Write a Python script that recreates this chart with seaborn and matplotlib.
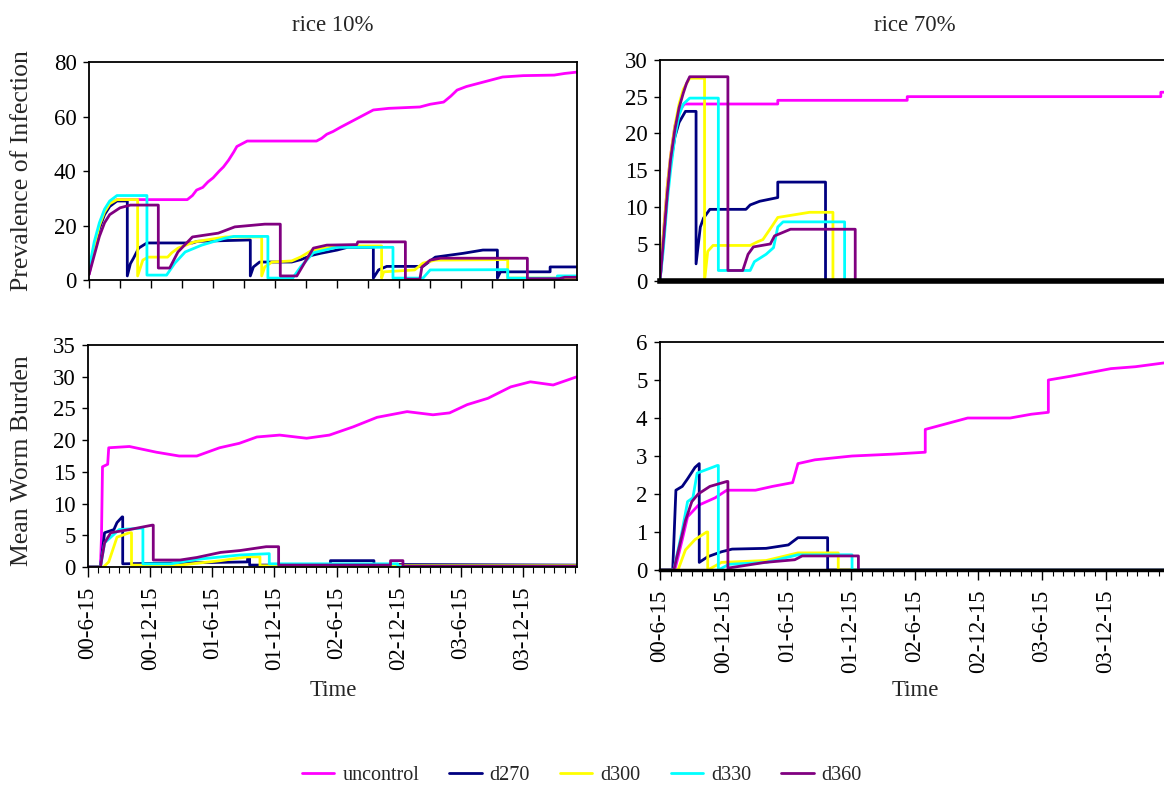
import matplotlib
matplotlib.use("Agg")
import matplotlib.pyplot as plt
from matplotlib.ticker import MultipleLocator
import seaborn as sns
import pandas as pd

# time in months since 00-6-15
series_names = ["uncontrol", "d270", "d300", "d330", "d360"]
colors = ["#FF00FF", "#000080", "#FFFF00", "#00FFFF", "#800080"]
tick_months = [0, 6, 12, 18, 24, 30, 36, 42]
tick_labels = ["00-6-15", "00-12-15", "01-6-15", "01-12-15",
               "02-6-15", "02-12-15", "03-6-15", "03-12-15"]

# ---- rice 10%, prevalence of infection
tl_uncontrol = [(0, 2), (0.5, 11), (1, 19), (1.5, 25), (2, 28), (2.7, 29.5), (9.5, 29.5), (10, 31),
                (10.4, 33), (11, 34), (11.5, 36), (12, 37.5), (12.6, 40), (13, 41.5), (13.5, 44),
                (14, 47), (14.3, 49), (15.3, 51), (22, 51), (22.5, 52), (23, 53.5), (23.6, 54.5),
                (24.3, 56), (25.3, 58), (26.3, 60), (27.5, 62.4), (29, 63), (32, 63.5), (33, 64.5),
                (34.3, 65.3), (35, 67.5), (35.6, 69.7), (36.5, 71), (37.8, 72.3), (39, 73.5),
                (40, 74.5), (42, 75), (45, 75.2), (46, 75.8), (47.2, 76.3)]
tl_d270 = [(0, 3), (0.5, 12), (1, 19), (1.5, 24), (2, 27), (2.7, 29), (3.7, 29), (3.7, 1.5), (4, 6),
           (4.3, 8), (4.8, 11.7), (5.6, 13.6), (10, 13.6), (10.5, 14.2), (15.6, 14.7), (15.6, 1.5),
           (15.9, 4.8), (16.5, 6.6), (19.6, 6.6), (20.5, 7.5), (21.5, 9), (22.4, 9.8), (24, 11),
           (25, 12), (27.5, 12), (27.5, 0.7), (28, 3.7), (28.8, 5), (32.3, 5), (33, 7), (33.5, 8.4),
           (36.2, 9.8), (38.1, 11), (39.5, 11), (39.5, 0.7), (39.8, 3), (44.6, 3), (44.6, 4.8),
           (47.2, 4.8)]
tl_d300 = [(0, 3), (0.5, 12), (1, 20), (1.5, 25), (2, 28), (2.7, 29.5), (4.7, 29.5), (4.7, 1.5),
           (5.2, 7.3), (5.7, 8.4), (7.6, 8.4), (8, 10), (8.6, 11.7), (10.2, 14), (13.2, 15.8),
           (16.7, 15.8), (16.7, 1.5), (17, 4.8), (17.7, 6.6), (19.6, 7), (20.5, 8.5), (21.6, 11),
           (24.3, 12.5), (28.3, 12.5), (28.3, 0.7), (28.5, 3), (31.5, 3.7), (32.3, 6.2),
           (33.5, 7.3), (40.5, 7.5), (40.5, 0.7), (47.2, 0.7)]
tl_d330 = [(0, 4), (0.5, 14), (1, 21), (1.5, 26), (2, 29), (2.7, 31), (5.6, 31), (5.6, 1.8),
           (7.5, 1.8), (8.3, 6.2), (9.3, 10.3), (10.9, 12.8), (13.2, 15.4), (14, 16), (17.3, 16),
           (17.3, 0.7), (19.7, 0.7), (20.5, 5), (21.7, 10), (23.6, 11.7), (24, 12), (29.4, 12),
           (29.4, 0.7), (32.3, 0.7), (33, 3.7), (40.5, 3.8), (40.5, 0.7), (45.3, 0.7), (45.3, 1.5),
           (47.2, 1.5)]
tl_d360 = [(0, 2), (0.5, 9), (1, 16), (1.5, 21), (2, 24), (3, 26.5), (4, 27.5), (6.7, 27.5),
           (6.7, 4.4), (7.8, 4.4), (8.6, 10.3), (10, 15.8), (12.5, 17.2), (14.1, 19.5), (17, 20.5),
           (18.5, 20.5), (18.5, 1.5), (20.1, 1.5), (20.8, 6), (21.7, 11.7), (23, 12.8), (25.9, 13),
           (26, 14), (30.6, 14), (30.6, 0.3), (32, 0.3), (32.2, 4.8), (33, 7.3), (34, 8), (42.4, 8),
           (42.4, 0.5), (45.5, 0.5), (46, 1), (47.2, 1)]

# ---- rice 70%, prevalence of infection
tr_uncontrol = [(0, 0), (0.3, 6), (0.7, 13), (1.0, 17), (1.4, 21), (1.8, 23), (2.3, 24), (11.1, 24),
                (11.1, 24.5), (23.3, 24.5), (23.3, 25), (47.2, 25), (47.2, 25.6), (47.5, 25.6)]
tr_d270 = [(0, 0), (0.3, 5), (0.7, 12), (1.0, 16), (1.4, 19.5), (1.8, 21.5), (2.4, 23), (3.4, 23),
           (3.4, 2.3), (3.8, 7.3), (4.1, 8.5), (4.7, 9.7), (8.1, 9.7), (8.5, 10.3), (9.4, 10.8),
           (11.1, 11.3), (11.1, 13.4), (15.6, 13.4), (15.6, 0), (47.5, 0)]
tr_d300 = [(0, 0), (0.3, 6), (0.7, 13), (1.0, 17), (1.4, 21), (1.8, 24), (2.2, 26), (2.8, 27.5),
           (4.2, 27.5), (4.2, 0), (4.5, 4), (5, 4.8), (8.5, 4.8), (9.2, 5.3), (9.7, 5.6),
           (10.6, 7.5), (11.1, 8.6), (14.1, 9.3), (16.3, 9.3), (16.3, 0), (47.5, 0)]
tr_d330 = [(0, 0), (0.3, 4), (0.7, 11), (1.0, 15), (1.4, 19.5), (1.8, 22.5), (2.2, 24), (2.8, 24.8),
           (5.5, 24.8), (5.5, 1.4), (8.5, 1.4), (8.9, 2.6), (10, 3.6), (10.7, 4.5), (11.1, 7.3),
           (11.6, 8), (17.4, 8), (17.4, 0), (47.5, 0)]
tr_d360 = [(0, 0), (0.3, 5), (0.7, 12), (1.0, 16.5), (1.4, 20.5), (1.8, 23.5), (2.2, 25.5),
           (2.5, 26.8), (2.8, 27.7), (6.4, 27.7), (6.4, 1.4), (7.8, 1.4), (8.3, 3.6), (8.8, 4.6),
           (10.4, 5), (10.8, 6.1), (12.3, 7), (18.4, 7), (18.4, 0), (47.5, 0)]

# ---- rice 10%, mean worm burden
bl_uncontrol = [(0, 0), (1.2, 0), (1.3, 4.7), (1.4, 15.8), (1.9, 16.2), (2, 18.8), (4, 19),
                (6.6, 18.1), (8.8, 17.5), (10.5, 17.5), (12.7, 18.8), (14.6, 19.5), (16.3, 20.5),
                (18.5, 20.8), (21.1, 20.3), (23.3, 20.8), (25.6, 22.1), (27.9, 23.6), (30.8, 24.5),
                (33.3, 24), (34.9, 24.3), (36.6, 25.6), (38.6, 26.6), (40.8, 28.4), (42.7, 29.2),
                (44.9, 28.7), (47.2, 30)]
bl_d270 = [(0, 0), (1.2, 0), (1.6, 5.4), (2.5, 5.9), (2.8, 7), (3.3, 7.9), (3.35, 7.9), (3.35, 0.5),
           (15.4, 0.8), (15.4, 1.5), (15.6, 1.5), (15.6, 0.3), (23.4, 0.3), (23.4, 1.0),
           (27.6, 1.0), (27.6, 0.4), (47.2, 0.3)]
bl_d300 = [(0, 0), (1.5, 0), (2, 0.8), (2.8, 4.7), (4.0, 5.4), (4.2, 5.4), (4.2, 0.3), (8.9, 0.3),
           (12.8, 1.0), (15.4, 1.6), (16.6, 1.6), (16.6, 0.2), (47.2, 0.2)]
bl_d330 = [(0, 0), (1.2, 0), (1.6, 3.8), (2.2, 4.7), (3.0, 5.9), (5.0, 6.1), (5.3, 6.1), (5.3, 0.5),
           (8, 0.5), (10.5, 1.2), (14.7, 1.9), (17.5, 2.1), (17.5, 0.5), (29.9, 0.5), (29.9, 0.1),
           (47.2, 0.1)]
bl_d360 = [(0, 0), (1.2, 0), (1.6, 3.8), (2.2, 5.4), (4.0, 5.9), (6.2, 6.6), (6.3, 6.6), (6.3, 1.1),
           (8.9, 1.1), (10.5, 1.5), (12.8, 2.3), (14.7, 2.6), (17.2, 3.2), (18.4, 3.2), (18.4, 0.3),
           (29.2, 0.3), (29.2, 1.0), (30.4, 1.0), (30.4, 0.1), (47.2, 0.1)]

# ---- rice 70%, mean worm burden
br_uncontrol = [(0, 0), (1.4, 0), (2.1, 0.8), (2.6, 1.4), (3.6, 1.7), (5.2, 1.9), (6.3, 2.1),
                (9, 2.1), (10.6, 2.2), (12.5, 2.3), (13, 2.8), (14.6, 2.9), (18.1, 3.0), (22, 3.05),
                (25, 3.1), (25, 3.7), (27, 3.85), (29, 4.0), (33, 4.0), (35, 4.1), (36.6, 4.15),
                (36.6, 5.0), (38.7, 5.1), (40.6, 5.2), (42.5, 5.3), (44.8, 5.35), (47.5, 5.45)]
br_d270 = [(0, 0), (1.2, 0), (1.5, 2.1), (2.1, 2.2), (2.6, 2.4), (3.3, 2.7), (3.7, 2.8), (3.7, 0.2),
           (4.5, 0.35), (5.8, 0.48), (6.8, 0.55), (10, 0.57), (12.1, 0.66), (13, 0.85),
           (15.8, 0.85), (15.8, 0), (47.5, 0)]
br_d300 = [(0, 0), (1.7, 0), (2.4, 0.53), (3.3, 0.8), (4.4, 1.0), (4.5, 1.0), (4.5, 0), (5.8, 0.2),
           (10, 0.25), (13, 0.45), (16.8, 0.45), (16.8, 0), (47.5, 0)]
br_d330 = [(0, 0), (1.3, 0), (2.1, 1.05), (2.6, 1.8), (3.1, 1.9), (3.5, 2.55), (5.4, 2.75),
           (5.5, 2.75), (5.5, 0), (6.5, 0.15), (10, 0.2), (13, 0.4), (18.1, 0.4), (18.1, 0),
           (47.5, 0)]
br_d360 = [(0, 0), (1.3, 0), (2.4, 1.3), (3, 1.8), (3.6, 2.0), (4.7, 2.2), (6.3, 2.33), (6.4, 2.33),
           (6.4, 0.05), (9.9, 0.2), (12.7, 0.27), (13.4, 0.37), (18.7, 0.37), (18.7, 0), (47.5, 0)]


def to_frame(*series):
    rows = []
    for name, pts in zip(series_names, series):
        for t, v in pts:
            rows.append({"month": t, "value": v, "series": name})
    return pd.DataFrame(rows)


sns.set_theme(style="ticks")
plt.rcParams["font.family"] = ["Liberation Serif", "DejaVu Serif"]
plt.rcParams["axes.linewidth"] = 1.3

palette = dict(zip(series_names, colors))

fig = plt.figure(figsize=(11.64, 7.91), dpi=100)
ax_tl = fig.add_axes([0.0765, 0.646, 0.4192, 0.2756])
ax_tr = fig.add_axes([0.567, 0.645, 0.433, 0.2794])
ax_bl = fig.add_axes([0.0756, 0.2832, 0.4201, 0.2806])
ax_br = fig.add_axes([0.567, 0.2794, 0.433, 0.2882])

panels = [
    (ax_tl, to_frame(tl_uncontrol, tl_d270, tl_d300, tl_d330, tl_d360), (0, 80), 20, 47.2),
    (ax_tr, to_frame(tr_uncontrol, tr_d270, tr_d300, tr_d330, tr_d360), (0, 30), 5, 47.5),
    (ax_bl, to_frame(bl_uncontrol, bl_d270, bl_d300, bl_d330, bl_d360), (0, 35), 5, 47.2),
    (ax_br, to_frame(br_uncontrol, br_d270, br_d300, br_d330, br_d360), (0, 6), 1, 47.5),
]

handles, labels = None, None
for i, (ax, df, ylim, ystep, xmax) in enumerate(panels):
    sns.lineplot(data=df, x="month", y="value", hue="series", hue_order=series_names,
                 palette=palette, estimator=None, sort=False, errorbar=None,
                 linewidth=2.0, legend=(i == 0), ax=ax)
    if i == 0:
        handles, labels = ax.get_legend_handles_labels()
        ax.get_legend().remove()
    ax.set_xlim(0, xmax)
    ax.set_ylim(*ylim)
    ax.yaxis.set_major_locator(MultipleLocator(ystep))
    ax.set_xlabel("")
    ax.set_ylabel("")
    for s in ax.spines.values():
        s.set_color("black")
    ax.tick_params(axis="y", labelsize=16.5, length=4, width=1, colors="black", pad=5)
    ax.tick_params(axis="x", length=6, width=1, colors="black")

# top row: no time labels
ax_tl.set_xticks(range(0, 48, 3))
ax_tl.set_xticklabels([])
ax_tr.set_xticks([])
ax_tr.spines["right"].set_visible(False)
ax_br.spines["right"].set_visible(False)
ax_tr.spines["bottom"].set_linewidth(4)
ax_br.spines["bottom"].set_linewidth(2.5)

for ax in (ax_bl, ax_br):
    ax.set_xticks(tick_months)
    ax.set_xticklabels(tick_labels, rotation=90, fontsize=16.5)
    ax.xaxis.set_minor_locator(MultipleLocator(1))
    ax.tick_params(axis="x", which="minor", length=4, width=0.8, colors="black")
    ax.tick_params(axis="x", which="major", length=7, pad=7)

fig.text(0.286, 0.968, "rice 10%", ha="center", va="center", fontsize=16.5)
fig.text(0.786, 0.968, "rice 70%", ha="center", va="center", fontsize=16.5)
fig.text(0.019, 0.785, "Prevalence of Infection", rotation=90, ha="center", va="center", fontsize=18.5)
fig.text(0.019, 0.418, "Mean Worm Burden", rotation=90, ha="center", va="center", fontsize=18.5)
fig.text(0.286, 0.127, "Time", ha="center", va="center", fontsize=16.5)
fig.text(0.786, 0.127, "Time", ha="center", va="center", fontsize=16.5)

fig.legend(handles, labels, loc="center", bbox_to_anchor=(0.5, 0.02), ncol=5, frameon=False,
           fontsize=14.5, handlelength=1.6, columnspacing=1.5, handletextpad=0.4)

fig.savefig("out.png", dpi=100, facecolor="white")
